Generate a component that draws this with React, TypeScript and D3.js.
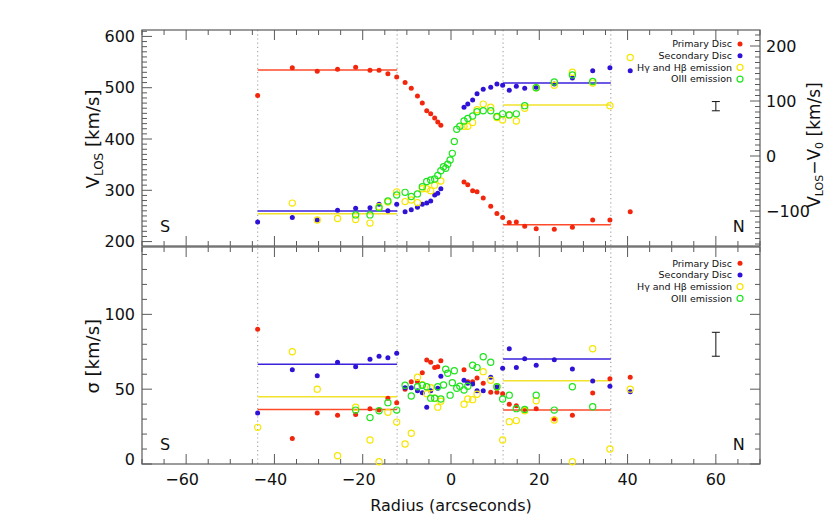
import { useEffect, useRef } from 'react';
import * as d3 from 'd3';

// aperture radius (arcsec)
const radius = [
  -43.8, -35.95, -30.3, -25.7, -21.6, -18.35, -16.3, -14.3, -12.3, -10.4,
  -9.0, -7.6, -6.5, -5.5, -4.6, -3.7, -3.0, -2.3, -1.7, -1.2,
  -0.75, -0.2, 0.3, 0.75, 1.3, 2.0, 2.95, 3.8, 4.9, 5.9,
  7.3, 9.0, 10.4, 11.7, 13.2, 14.8, 16.7, 19.3, 23.4, 27.5,
  32.1, 36.0, 40.6
];

// line-of-sight velocity (km/s)
const vPrimary = [
  485, 539, 532, 536, 540, 534, 534, 527, 521, 510,
  499, 484, 470, 455, 449, 441, 433, 427, null, null,
  null, null, null, null, null, null, 316, 311, 299, 297,
  285, 269, 255, 247, 237, 238, 230, 225, 224, 228,
  242, 242, 258
];
const vSecondary = [
  238, 247, 242, 261, 265, 266, 273, 260, 273, 258,
  262, 267, 273, 275, 279, 291, 294, 303, null, null,
  null, null, null, null, null, null, 462, 468, 476, 488,
  497, 501, 507, 505, 495, 503, 499, 501, 507, 519,
  533, 539, 533
];
const vHydrogen = [
  null, 275, 242, 245, 243, 236, 268, 277, 297, 278,
  281, 276, 303, 303, 299, 310, null, 318, null, null,
  null, null, null, null, null, null, 425, 425, 432, 457,
  468, 462, 442, 437, 447, 435, 460, 500, 505, 530,
  509, 465, 559
];
const vOxygen = [
  null, null, null, null, 252, 252, 266, 279, 291, 296,
  288, 293, 307, 317, 320, 322, 329, 338, 346, 343,
  351, 359, 372, 395, 419, 425, 435, 440, 445, 453,
  455, 455, 444, 449, 447, 449, 465, 500, 511, 525,
  512, null, null
];

// velocity dispersion (km/s)
const sigPrimary = [
  90, 17, 34, 32.5, 33, 37, 36, 44, 41, 50,
  55, 55, 61, 69.5, 68, 64.4, 65, 69, null, null,
  null, null, null, null, null, null, 63, 55, 55, 57.5,
  54, 48, 48, 47, 40, 39, 36.5, 37, 30, 32.5,
  47.5, 57, 58
];
const sigSecondary = [
  34, 63, 59, 68, 65, 70, 72, 71, 74, 51,
  51, 49, 47.6, 38, 49, null, 50.6, 58.6, null, null,
  null, null, null, null, null, null, 56, 54, 53.5, 49,
  49, 58, 51.6, 64, 77, 64.4, 70.4, 66, 69.7, 63.5,
  55.5, 52, 48.3
];
const sigHydrogen = [
  24.5, 75, 50, 5.5, 38, 16, 1.5, 34.5, 28, 13.4,
  20.5, 58, 53, 47, 51, 44, 38, 42, null, null,
  null, null, null, null, null, null, 40, 43.4, 43, 46.6,
  61.7, 56, 51.6, 16, 28.3, 29, 35.6, 42.3, 29.4, 1.5,
  77, 10, 50
];
const sigOxygen = [
  null, null, null, null, 36, 31, 35.6, 41, 36, 52.6,
  45.4, 51.6, 52.6, 51.6, 44, 44, 51.6, 43.4, 52.8, 63.3,
  60.6, 46, 54.3, 62.3, 50.6, 52, 49.4, 52, 66, 64.4,
  71.7, 68, 51.6, 43.4, 46, 37, 36.5, 46, 36, 51.6,
  38.3, null, null
];

// region boundaries and mean levels [south, north]
const regionEdges = [-43.8, -12.2, 11.8, 36.2];
const vFitPrimary = [534.5, 233];
const vFitSecondary = [259.6, 509.2];
const vFitHydrogen = [254.4, 466.3];
const sigFitPrimary = [36.5, 36.1];
const sigFitSecondary = [66.6, 70.2];
const sigFitHydrogen = [45, 55.7];

// typical error bars: [radius, centre, half-length]
const vErrorBar = [60, 464, 9];
const sigErrorBar = [60, 80, 8];

const xTicks = [-60, -40, -20, 0, 20, 40, 60];
const vTicks = [200, 300, 400, 500, 600];
const vRelTicks = [-100, 0, 100, 200];
const sigTicks = [0, 50, 100];

const legendLabels = ['Primary Disc', 'Secondary Disc', 'H\u03b3 and H\u03b2 emission', 'OIII emission'];

const COLORS = {
  primary: '#f2260c',
  secondary: '#2e12d6',
  hydrogen: '#f7e600',
  oxygen: '#1fe41f',
  primaryLine: '#ff4a2a',
  secondaryLine: '#3a22dc',
  hydrogenLine: '#f2e22a'
};

const FONT = 'DejaVu Sans, sans-serif';

const App = () => {
  const svgRef = useRef(null);

  useEffect(() => {
    const svg = d3.select(svgRef.current);
    svg.selectAll('*').remove();

    const x = d3.scaleLinear().domain([-70, 70]).range([142, 760]);
    const yV = d3.scaleLinear().domain([191.4, 612.5]).range([246, 30]);
    const yRel = d3.scaleLinear().domain([-163.6, 229.1]).range([246, 30]);
    const yS = d3.scaleLinear().domain([0, 145]).range([464, 247]);

    const axisColor = '#5a5a5a';

    // dotted region boundaries across both panels
    svg.append('g')
      .selectAll('line')
      .data(regionEdges)
      .enter()
      .append('line')
      .attr('x1', d => x(d)).attr('x2', d => x(d))
      .attr('y1', 30).attr('y2', 464)
      .attr('stroke', '#a8a8a8')
      .attr('stroke-width', 1.2)
      .attr('stroke-dasharray', '1.2,3');

    const drawPanel = (y, yRight, leftTicks, leftMinor, rightTicks, rightMinor, major, minor) => {
      const [y0, y1] = y.range();
      const g = svg.append('g');
      g.append('rect')
        .attr('x', x(-70)).attr('y', y1)
        .attr('width', x(70) - x(-70)).attr('height', y0 - y1)
        .attr('fill', 'none')
        .attr('stroke', axisColor)
        .attr('stroke-width', 1.2);

      const xMinor = d3.range(-70, 71, 5).filter(d => d % 20 !== 0);
      const tick = (data, fn) => g.append('g').selectAll('line').data(data).enter().append('line')
        .each(function (d) { const [a, b, c, e] = fn(d); d3.select(this).attr('x1', a).attr('y1', b).attr('x2', c).attr('y2', e); })
        .attr('stroke', axisColor)
        .attr('stroke-width', 1);

      tick(xTicks, d => [x(d), y0, x(d), y0 - major]);
      tick(xMinor, d => [x(d), y0, x(d), y0 - minor]);
      tick(xTicks, d => [x(d), y1, x(d), y1 + major]);
      tick(xMinor, d => [x(d), y1, x(d), y1 + minor]);
      tick(leftTicks, d => [x(-70), y(d), x(-70) + major, y(d)]);
      tick(leftMinor, d => [x(-70), y(d), x(-70) + minor, y(d)]);
      tick(rightTicks, d => [x(70), yRight(d), x(70) - major, yRight(d)]);
      tick(rightMinor, d => [x(70), yRight(d), x(70) - minor, yRight(d)]);
      return g;
    };

    const vMinor = d3.range(200, 611, 10).filter(d => d % 100 !== 0);
    const relMinor = d3.range(-160, 230, 10).filter(d => d % 100 !== 0);
    const sigMinor = d3.range(0, 146, 10).filter(d => d % 50 !== 0);
    drawPanel(yV, yRel, vTicks, vMinor, vRelTicks, relMinor, 10, 5);
    drawPanel(yS, yS, sigTicks, sigMinor, sigTicks, sigMinor, 10, 5);

    // tick labels
    const labels = svg.append('g')
      .attr('font-family', FONT)
      .attr('font-size', 16)
      .attr('fill', '#111');

    labels.selectAll('.vl').data(vTicks).enter().append('text')
      .attr('x', 135).attr('y', d => yV(d)).attr('dy', '0.36em')
      .attr('text-anchor', 'end').text(d => d);
    labels.selectAll('.rl').data(vRelTicks).enter().append('text')
      .attr('x', 766).attr('y', d => yRel(d)).attr('dy', '0.36em')
      .attr('text-anchor', 'start').text(d => (d < 0 ? '\u2212' + Math.abs(d) : d));
    labels.selectAll('.sl').data(sigTicks).enter().append('text')
      .attr('x', 135).attr('y', d => yS(d) - (d === 0 ? 5 : 0)).attr('dy', '0.36em')
      .attr('text-anchor', 'end').text(d => d);
    labels.selectAll('.xl').data(xTicks).enter().append('text')
      .attr('x', d => x(d) - (d < 0 ? 4 : 0)).attr('y', 485)
      .attr('text-anchor', 'middle').text(d => (d < 0 ? '\u2212' + Math.abs(d) : d));

    // axis titles
    svg.append('text')
      .attr('x', x(0)).attr('y', 511)
      .attr('text-anchor', 'middle')
      .attr('font-family', FONT).attr('font-size', 16).attr('fill', '#111')
      .text('Radius (arcseconds)');

    const vTitle = svg.append('text')
      .attr('transform', `translate(99,${yV(400)}) rotate(-90)`)
      .attr('text-anchor', 'middle')
      .attr('font-family', FONT).attr('font-size', 18).attr('fill', '#111');
    vTitle.append('tspan').text('V');
    vTitle.append('tspan').attr('font-size', 12).attr('dy', 4).text('LOS');
    vTitle.append('tspan').attr('dy', -4).text(' [km/s]');

    svg.append('text')
      .attr('transform', `translate(99,${yS(72)}) rotate(-90)`)
      .attr('text-anchor', 'middle')
      .attr('font-family', FONT).attr('font-size', 18).attr('fill', '#111')
      .text('\u03c3 [km/s]');

    const rTitle = svg.append('text')
      .attr('transform', `translate(820,${yRel(20)}) rotate(-90)`)
      .attr('text-anchor', 'middle')
      .attr('font-family', FONT).attr('font-size', 17).attr('fill', '#111');
    rTitle.append('tspan').text('V');
    rTitle.append('tspan').attr('font-size', 11).attr('dy', 3).text('LOS');
    rTitle.append('tspan').attr('dy', -3).text('\u2212V');
    rTitle.append('tspan').attr('font-size', 11).attr('dy', 3).text('0');
    rTitle.append('tspan').attr('dy', -3).text(' [km/s]');

    // S / N markers
    const sideLabels = [[-65, 'S'], [65, 'N']];
    [yV, yS].forEach((y, i) => {
      svg.append('g').selectAll('text').data(sideLabels).enter().append('text')
        .attr('x', d => x(d[0] < 0 ? -64.8 : 65.2))
        .attr('y', i === 0 ? 232 : 450)
        .attr('text-anchor', 'middle')
        .attr('font-family', FONT).attr('font-size', 16).attr('fill', '#111')
        .text(d => d[1]);
    });

    // fitted mean levels
    const drawFits = (y, fits) => {
      fits.forEach(([levels, color]) => {
        [[regionEdges[0], regionEdges[1], levels[0]], [regionEdges[2], regionEdges[3], levels[1]]].forEach(([a, b, v]) => {
          svg.append('line')
            .attr('x1', x(a)).attr('x2', x(b))
            .attr('y1', y(v)).attr('y2', y(v))
            .attr('stroke', color)
            .attr('stroke-width', 1.5);
        });
      });
    };
    drawFits(yV, [[vFitPrimary, COLORS.primaryLine], [vFitSecondary, COLORS.secondaryLine], [vFitHydrogen, COLORS.hydrogenLine]]);
    drawFits(yS, [[sigFitPrimary, COLORS.primaryLine], [sigFitSecondary, COLORS.secondaryLine], [sigFitHydrogen, COLORS.hydrogenLine]]);

    // data points
    const drawSeries = (y, values, color, filled) => {
      const pts = radius.map((r, i) => ({ r, v: values[i] })).filter(d => d.v !== null);
      svg.append('g').selectAll('circle').data(pts).enter().append('circle')
        .attr('cx', d => x(d.r))
        .attr('cy', d => y(d.v))
        .attr('r', filled ? 2.5 : 3.1)
        .attr('fill', filled ? color : 'none')
        .attr('stroke', filled ? 'none' : color)
        .attr('stroke-width', 1.2);
    };
    drawSeries(yV, vPrimary, COLORS.primary, true);
    drawSeries(yV, vSecondary, COLORS.secondary, true);
    drawSeries(yV, vHydrogen, COLORS.hydrogen, false);
    drawSeries(yV, vOxygen, COLORS.oxygen, false);
    drawSeries(yS, sigPrimary, COLORS.primary, true);
    drawSeries(yS, sigSecondary, COLORS.secondary, true);
    drawSeries(yS, sigHydrogen, COLORS.hydrogen, false);
    drawSeries(yS, sigOxygen, COLORS.oxygen, false);

    // typical error bars
    [[yV, vErrorBar], [yS, sigErrorBar]].forEach(([y, [r, c, h]]) => {
      const g = svg.append('g').attr('stroke', '#111').attr('stroke-width', 1);
      g.append('line').attr('x1', x(r)).attr('x2', x(r)).attr('y1', y(c - h)).attr('y2', y(c + h));
      g.append('line').attr('x1', x(r) - 4).attr('x2', x(r) + 4).attr('y1', y(c - h)).attr('y2', y(c - h));
      g.append('line').attr('x1', x(r) - 4).attr('x2', x(r) + 4).attr('y1', y(c + h)).attr('y2', y(c + h));
    });

    // legends
    const legendMarks = [
      { color: COLORS.primary, filled: true },
      { color: COLORS.secondary, filled: true },
      { color: COLORS.hydrogen, filled: false },
      { color: COLORS.oxygen, filled: false }
    ];
    [44, 263.3].forEach(top => {
      const legend = svg.append('g');
      legendLabels.forEach((label, i) => {
        const row = legend.append('g').attr('transform', `translate(0,${top + i * 11.7})`);
        row.append('text')
          .attr('x', 732).attr('y', 0).attr('dy', '0.35em')
          .attr('text-anchor', 'end')
          .attr('font-family', FONT).attr('font-size', 9.5).attr('fill', '#111')
          .text(label);
        const m = legendMarks[i];
        row.append('circle')
          .attr('cx', 740).attr('cy', 0)
          .attr('r', m.filled ? 2.5 : 3)
          .attr('fill', m.filled ? m.color : 'none')
          .attr('stroke', m.filled ? 'none' : m.color)
          .attr('stroke-width', 1.2);
      });
    });
  }, []);

  return (
    <div style={{ position: 'absolute', left: 0, top: 0, width: 830, height: 528, background: '#fff' }}>
      <svg ref={svgRef} width={830} height={528} style={{ display: 'block' }} />
    </div>
  );
};

export default App;
